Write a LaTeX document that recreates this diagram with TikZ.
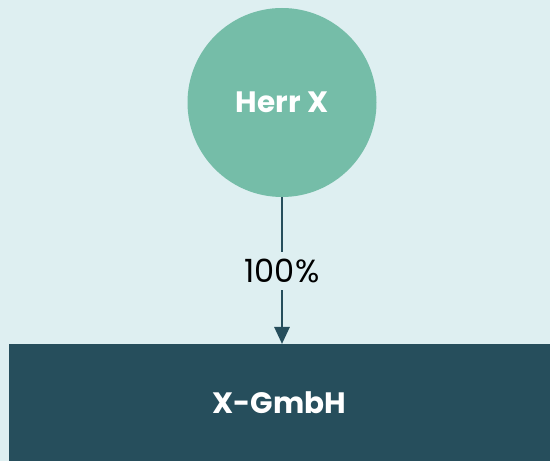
\documentclass[tikz,border=0pt]{standalone}
\usepackage{fontspec}
\setmainfont{Poppins}
\usetikzlibrary{arrows.meta}
\definecolor{bg}{HTML}{DEEFF1}
\definecolor{mint}{HTML}{75BDA8}
\definecolor{navy}{HTML}{264E5C}
\begin{document}
\begin{tikzpicture}[x=1pt,y=1pt,
  person/.style={circle,fill=mint,minimum size=189pt,inner sep=0pt,text=white,font=\fontsize{29.5}{34}\selectfont\bfseries},
  company/.style={rectangle,fill=navy,minimum width=541pt,minimum height=117pt,inner sep=0pt,text=white,font=\fontsize{29.5}{34}\selectfont\bfseries},
  link/.style={draw=navy,line width=2.8pt,-{Triangle[length=17pt,width=15pt]}},
  pct/.style={fill=bg,inner xsep=2pt,inner ysep=7pt,text=black,font=\fontsize{32}{36}\selectfont}]
\fill[bg] (0,0) rectangle (550,461);
\useasboundingbox (0,0) rectangle (550,461);
\node[person] (herr) at (282,358.5) {Herr X};
\node[company] (gmbh) at (279.5,58.5) {X-GmbH};
\coordinate (top) at (282,117);
\draw[link] (herr.south) -- node[pct] {100\%} (top);
\end{tikzpicture}
\end{document}
